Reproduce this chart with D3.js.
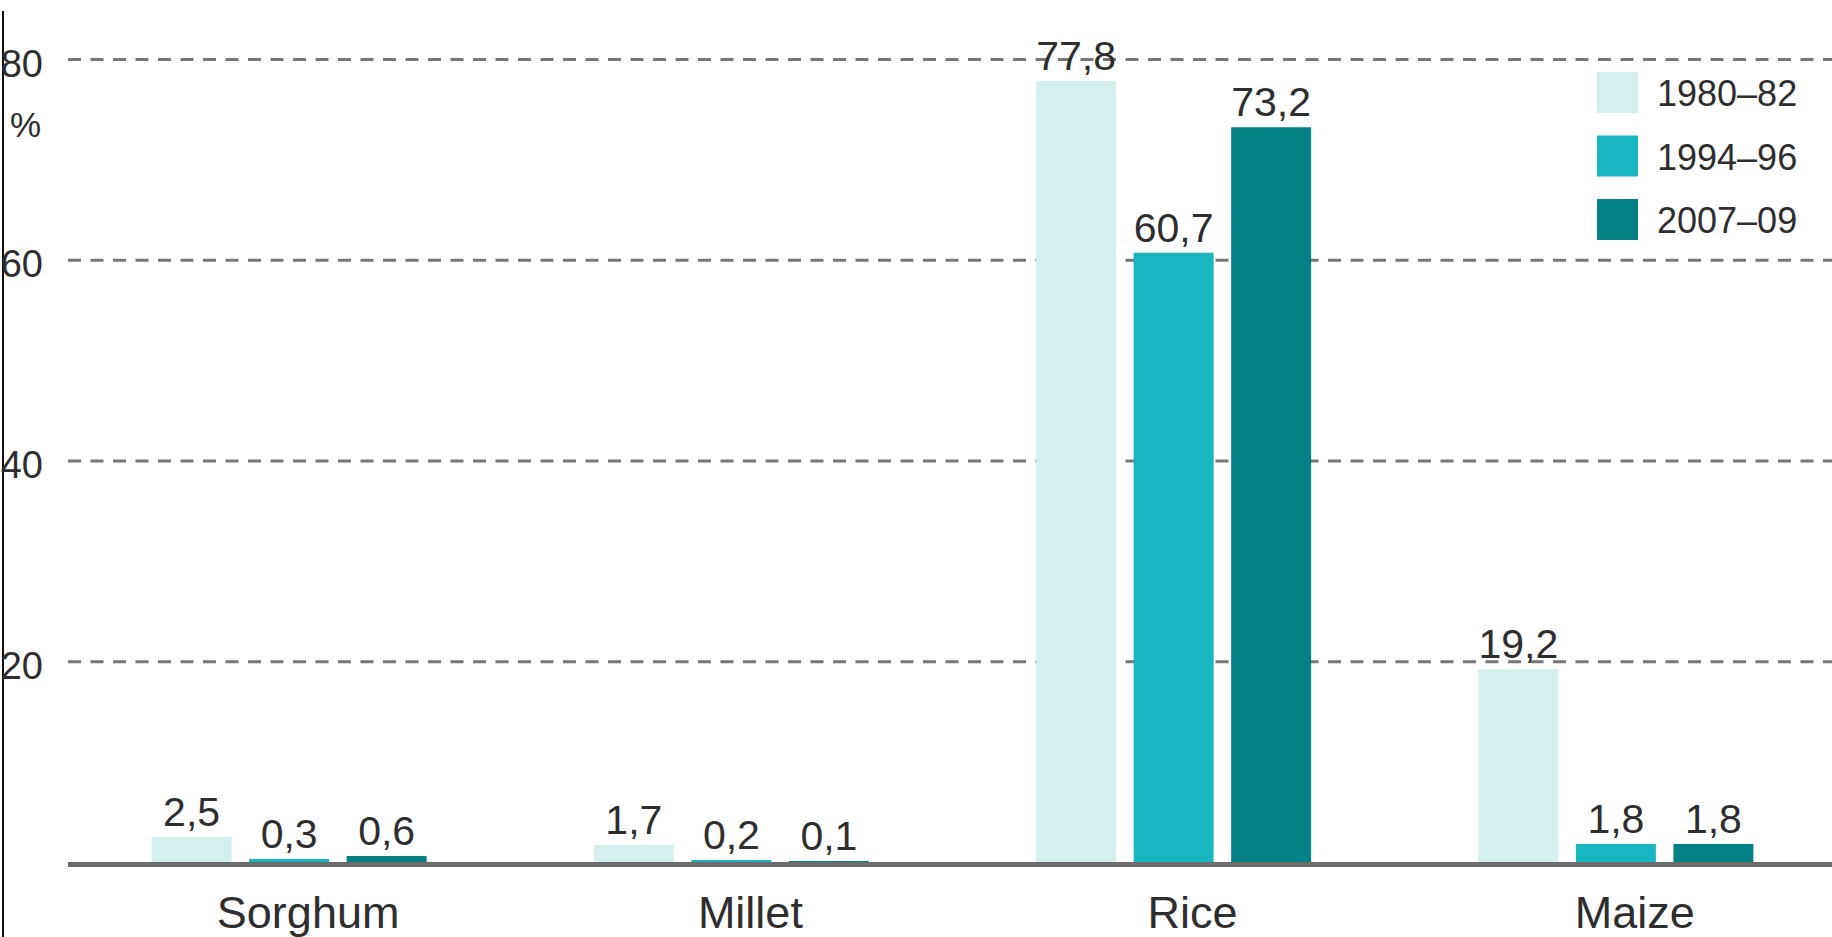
<!DOCTYPE html>
<html>
<head>
<meta charset="utf-8">
<script src="https://cdn.jsdelivr.net/npm/d3@7"></script>
<style>
  html, body { margin: 0; padding: 0; background: #ffffff; }
  svg { display: block; }
  text { font-family: "Liberation Sans", Arial, Helvetica, sans-serif; fill: #2e2e2e; }
</style>
</head>
<body>
<svg id="chart" width="1832" height="937"></svg>
<script>
// ---- Data ----
const categories = ["Sorghum", "Millet", "Rice", "Maize"];
const seriesNames = ["1980–82", "1994–96", "2007–09"];
const values1980_82 = [2.5, 1.7, 77.8, 19.2];
const values1994_96 = [0.3, 0.2, 60.7, 1.8];
const values2007_09 = [0.6, 0.1, 73.2, 1.8];
const yTicks = [20, 40, 60, 80];
const yUnit = "%";
const seriesColors = ["#d5eeee", "#19b5c1", "#058084"];

const seriesValues = [values1980_82, values1994_96, values2007_09];
const rows = categories.map((c, i) => ({
  category: c,
  items: seriesNames.map((s, j) => ({ series: s, value: seriesValues[j][i], color: seriesColors[j] }))
}));

// ---- Layout ----
const W = 1832, H = 937;
const plotLeft = 68, plotRight = 1837;
const yZero = 862, yTop = 59;
const svg = d3.select("#chart");

const x0 = d3.scaleBand().domain(categories).range([plotLeft, plotRight]).padding(0);
const groupWidth = 275;
const x1 = d3.scaleBand().domain(seriesNames)
  .range([(x0.bandwidth() - groupWidth) / 2, (x0.bandwidth() + groupWidth) / 2])
  .paddingInner(0.18).paddingOuter(0);
const y = d3.scaleLinear().domain([0, 80]).range([yZero, yTop]);

const locale = d3.formatLocale({ decimal: ",", thousands: ".", grouping: [3], currency: ["", ""] });
const fmt = locale.format(".1f");

// left vertical rule
svg.append("line")
  .attr("x1", 3).attr("x2", 3).attr("y1", 11).attr("y2", H)
  .attr("stroke", "#111").attr("stroke-width", 2);

// gridlines via axis
const gridAxis = d3.axisRight(y).tickValues(yTicks).tickSize(W - plotLeft).tickFormat("");
const grid = svg.append("g").attr("transform", `translate(${plotLeft},0)`).call(gridAxis);
grid.select(".domain").remove();
grid.selectAll(".tick line")
  .attr("stroke", "#777").attr("stroke-width", 3).attr("stroke-dasharray", "13,9.5");

// y tick labels
const yAxis = d3.axisLeft(y).tickValues(yTicks).tickSize(0).tickFormat(d3.format("d"));
const ya = svg.append("g").attr("transform", "translate(43,0)").call(yAxis);
ya.select(".domain").remove();
ya.selectAll(".tick text")
  .attr("x", 0).attr("dy", "17px").attr("text-anchor", "end")
  .style("font-size", "38px").style("font-family", "'Liberation Sans', Arial, sans-serif").attr("fill", "#2e2e2e");

// unit
svg.append("text").attr("x", 10).attr("y", 137).style("font-size", "35px").text(yUnit);

// bars
const groups = svg.selectAll("g.group").data(rows).join("g")
  .attr("class", "group")
  .attr("transform", d => `translate(${x0(d.category)},0)`);

groups.selectAll("rect").data(d => d.items).join("rect")
  .attr("x", d => x1(d.series))
  .attr("width", x1.bandwidth())
  .attr("y", d => y(d.value))
  .attr("height", d => y(0) - y(d.value))
  .attr("fill", d => d.color);

groups.selectAll("text.val").data(d => d.items).join("text")
  .attr("class", "val")
  .attr("x", d => x1(d.series) + x1.bandwidth() / 2)
  .attr("y", d => y(d.value) - 11)
  .attr("text-anchor", "middle")
  .style("font-size", "41px")
  .text(d => fmt(d.value));

// baseline
svg.append("line")
  .attr("x1", plotLeft).attr("x2", W).attr("y1", yZero + 2.5).attr("y2", yZero + 2.5)
  .attr("stroke", "#6c6c6c").attr("stroke-width", 5);

// category labels
const xAxis = d3.axisBottom(x0).tickSize(0);
const xa = svg.append("g").attr("transform", `translate(0,${yZero})`).call(xAxis);
xa.select(".domain").remove();
xa.selectAll(".tick text")
  .attr("y", 0).attr("dy", "66px").attr("dx", "19px")
  .style("font-size", "45px").style("font-family", "'Liberation Sans', Arial, sans-serif").attr("fill", "#2e2e2e");

// legend
const legend = svg.append("g").attr("transform", "translate(1597,72)");
const li = legend.selectAll("g").data(seriesNames).join("g")
  .attr("transform", (d, i) => `translate(0,${i * 63.5})`);
li.append("rect").attr("width", 41).attr("height", 41).attr("fill", (d, i) => seriesColors[i]);
li.append("text").attr("x", 60).attr("y", 34).style("font-size", "36px").text(d => d);
</script>
</body>
</html>
